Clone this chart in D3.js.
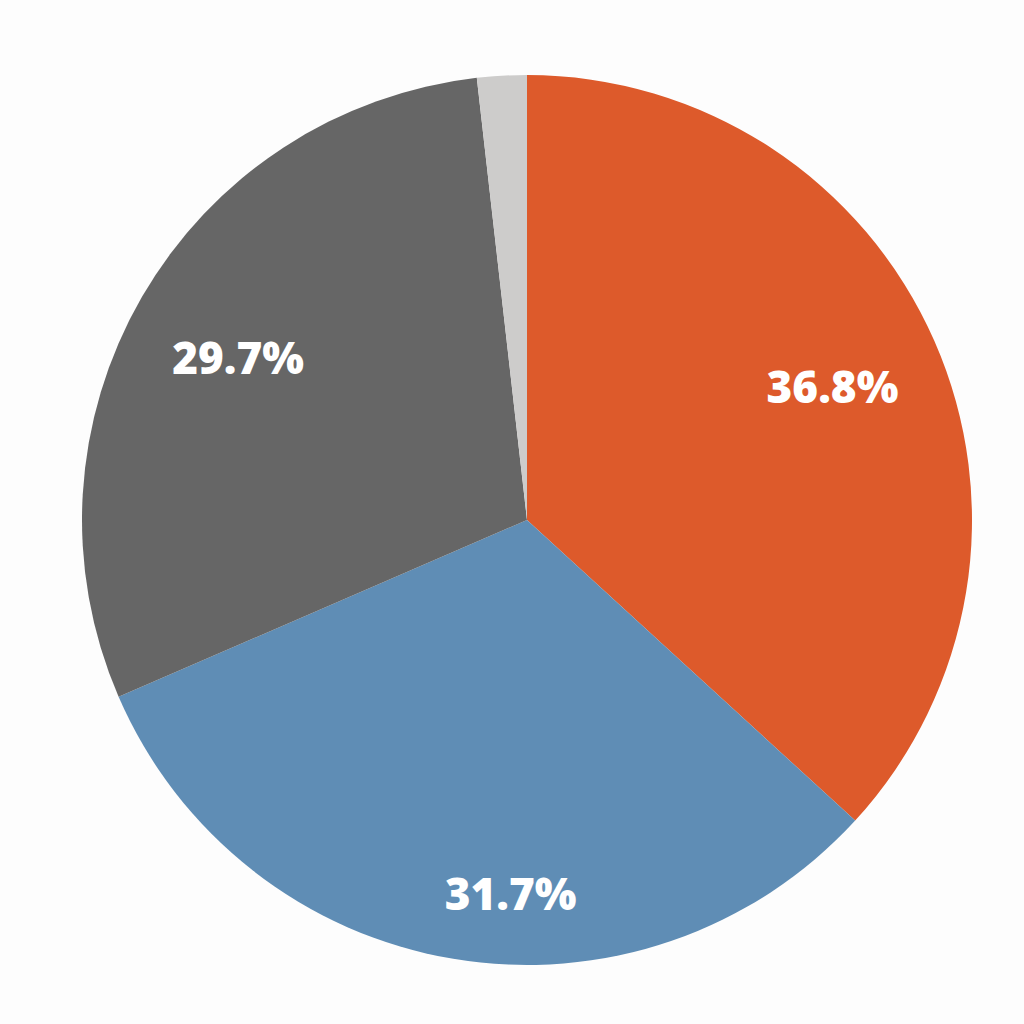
<!DOCTYPE html>
<html><head><meta charset="utf-8">
<script src="https://cdn.jsdelivr.net/npm/d3@7"></script>
<style>html,body{margin:0;padding:0;background:#fdfdfd;}</style>
</head><body>
<svg id="c" width="1024" height="1024"></svg>
<script>
const categories = ["A", "B", "C", "D"];
const values = [36.8, 31.7, 29.7, 1.8];
const labels = ["36.8%", "31.7%", "29.7%", ""];
const colors = ["#dd5a2b", "#5f8db5", "#666666", "#cdcccb"];

// layout: label nudges (px) relative to the arc centroid, as placed in the reference
const labelNudge = [[0, 0], [39, 44], [0, 4], [0, 0]];

const cx = 527, cy = 520, R = 445;
const svg = d3.select("#c");
svg.append("rect").attr("width",1024).attr("height",1024).attr("fill","#fdfdfd");
const g = svg.append("g").attr("transform", `translate(${cx},${cy})`);
const data = categories.map((c,i)=>({c, v: values[i], l: labels[i], col: colors[i], i}));
const pie = d3.pie().value(d=>d.v).sort(null);
const arc = d3.arc().innerRadius(0).outerRadius(R);
const labelArc = d3.arc().innerRadius(R*0.75).outerRadius(R*0.75);
const arcs = pie(data);
g.selectAll("path").data(arcs).join("path").attr("d", arc).attr("fill", d=>d.data.col);
g.selectAll("text").data(arcs).join("text")
  .attr("transform", d=>{
    const [x,y] = labelArc.centroid(d);
    const [nx,ny] = labelNudge[d.data.i];
    return `translate(${x+nx},${y+ny})`;
  })
  .attr("text-anchor","middle").attr("dominant-baseline","central")
  .attr("fill","#ffffff").attr("font-family","'Open Sans', sans-serif")
  .attr("font-weight",800).attr("font-size",44)
  .text(d=>d.data.l);
</script>
</body></html>
